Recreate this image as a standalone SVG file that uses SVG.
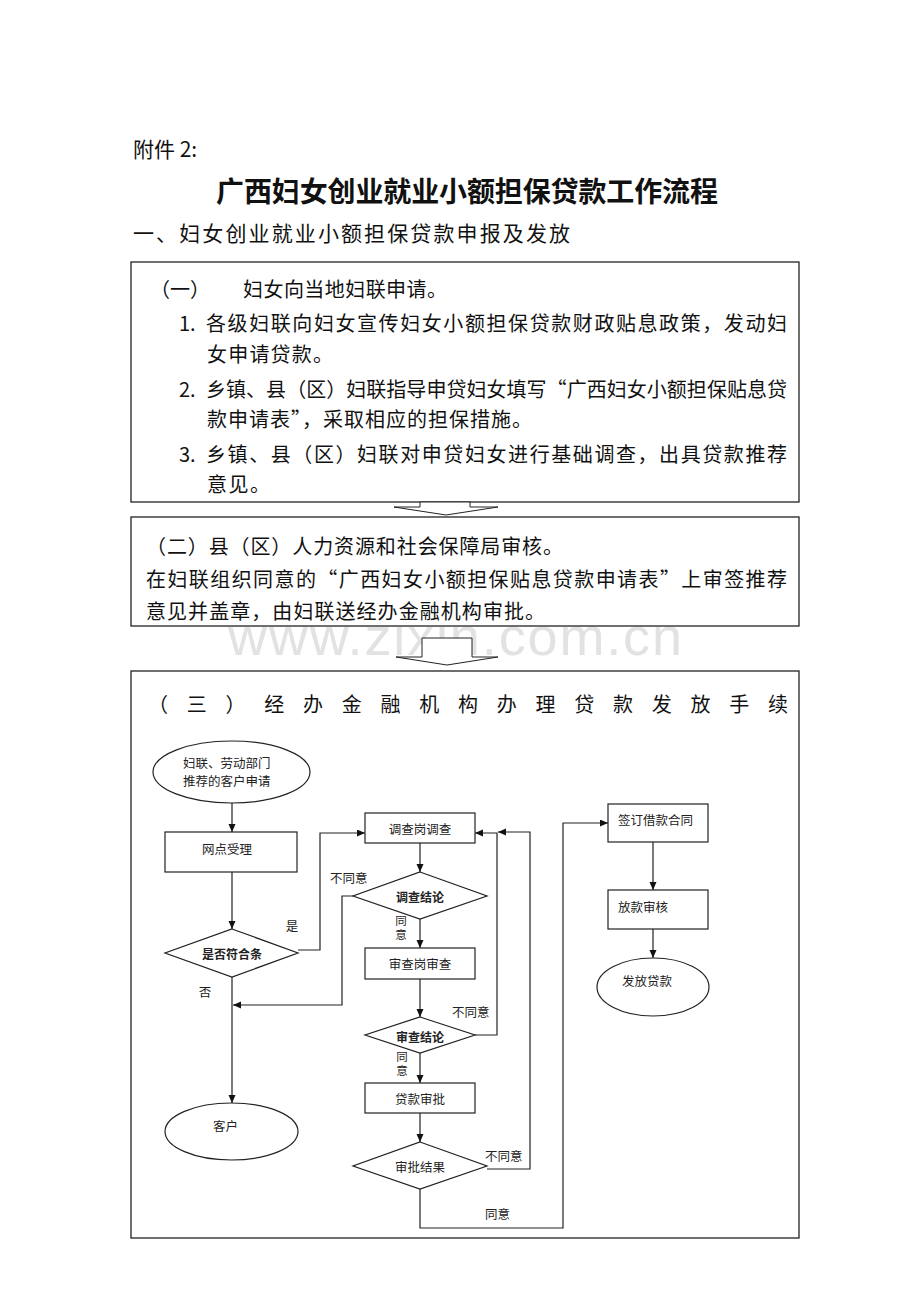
<svg xmlns="http://www.w3.org/2000/svg" width="920" height="1302" viewBox="0 0 920 1302">
<style>
.doc{font-family:"Noto Sans CJK SC","Liberation Serif",serif;fill:#111;dominant-baseline:central}
.s20{font-size:20px}
.s21{font-size:21px}
.t28{font-size:28px;font-weight:bold}
.fc{font-family:"Noto Sans CJK SC","Liberation Sans",sans-serif;fill:#222;dominant-baseline:central}
.f13{font-size:12.5px}
.f12b{font-size:12px;font-weight:bold}
.f11{font-size:11.5px}
.mid{text-anchor:middle}
.page{fill:#fff;stroke:#222;stroke-width:1.3}
.nd{fill:#fff;stroke:#222;stroke-width:1.2}
.cn{fill:none;stroke:#222;stroke-width:1.2}
.blk{fill:#fff;stroke:#222;stroke-width:1}
.wm{font-family:"Liberation Sans",Arial,sans-serif;font-size:54px;fill:#e2e2e2}
</style>
<defs>
<marker id="ah" markerUnits="userSpaceOnUse" markerWidth="9" markerHeight="8" refX="8" refY="3.5" orient="auto">
<path d="M0,0 L8,3.5 L0,7 z" fill="#111"/>
</marker>
</defs>
<rect width="920" height="1302" fill="#fff"/>
<text class="wm" x="228" y="655" textLength="454" lengthAdjust="spacing">www.zixin.com.cn</text>

<text class="doc s21" x="133" y="148">附件 2:</text>
<text class="doc t28" x="216" y="190" textLength="502" lengthAdjust="spacing">广西妇女创业就业小额担保贷款工作流程</text>
<text class="doc s21" x="133" y="232" textLength="437" lengthAdjust="spacing">一、妇女创业就业小额担保贷款申报及发放</text>

<g id="box1">
<rect class="page" x="131" y="262" width="668" height="240"/>
<text class="doc s20" x="150" y="288">（一）</text>
<text class="doc s20" x="243" y="288" textLength="204" lengthAdjust="spacing">妇女向当地妇联申请。</text>
<text class="doc s20" x="179" y="322">1.</text>
<text class="doc s20" x="206" y="322" textLength="581" lengthAdjust="spacing">各级妇联向妇女宣传妇女小额担保贷款财政贴息政策，发动妇</text>
<text class="doc s20" x="207" y="353" textLength="126" lengthAdjust="spacing">女申请贷款。</text>
<text class="doc s20" x="179" y="388">2.</text>
<text class="doc s20" x="206" y="388" textLength="581" lengthAdjust="spacing">乡镇、县（区）妇联指导申贷妇女填写“广西妇女小额担保贴息贷</text>
<text class="doc s20" x="207" y="418" textLength="325" lengthAdjust="spacing">款申请表”，采取相应的担保措施。</text>
<text class="doc s20" x="179" y="453">3.</text>
<text class="doc s20" x="206" y="453" textLength="581" lengthAdjust="spacing">乡镇、县（区）妇联对申贷妇女进行基础调查，出具贷款推荐</text>
<text class="doc s20" x="207" y="483" textLength="63" lengthAdjust="spacing">意见。</text>
</g>

<g id="arrow1">
<polygon class="blk" points="420,502 420,507 394,507 446,515 498,507 470,507 470,502"/>
</g>

<g id="box2">
<rect class="page" x="131" y="517" width="668" height="109"/>
<text class="doc s20" x="146" y="545" textLength="417" lengthAdjust="spacing">（二）县（区）人力资源和社会保障局审核。</text>
<text class="doc s20" x="146" y="578" textLength="641" lengthAdjust="spacing">在妇联组织同意的“广西妇女小额担保贴息贷款申请表”上审签推荐</text>
<text class="doc s20" x="146" y="610" textLength="399" lengthAdjust="spacing">意见并盖章，由妇联送经办金融机构审批。</text>
</g>

<g id="arrow2">
<polygon class="blk" points="422,638 472,638 472,657 498,657 447,665 396,657 422,657"/>
</g>

<g id="box3">
<rect class="page" x="131" y="671" width="668" height="567" fill="none"/>
<text class="doc s20" x="148" y="703" textLength="640" lengthAdjust="spacing">（三）经办金融机构办理贷款发放手续</text>
</g>

<g id="connectors">
<line class="cn" x1="232" y1="803" x2="232" y2="832" marker-end="url(#ah)"/>
<line class="cn" x1="232" y1="872" x2="232" y2="929" marker-end="url(#ah)"/>
<line class="cn" x1="232" y1="977" x2="232" y2="1103" marker-end="url(#ah)"/>
<polyline class="cn" points="298,950 320,950 320,833 365,833" marker-end="url(#ah)"/>
<polyline class="cn" points="353,896 342,896 342,1005 233,1005" marker-end="url(#ah)"/>
<line class="cn" x1="420" y1="843" x2="420" y2="872" marker-end="url(#ah)"/>
<line class="cn" x1="420" y1="919" x2="420" y2="948" marker-end="url(#ah)"/>
<line class="cn" x1="420" y1="979" x2="420" y2="1017" marker-end="url(#ah)"/>
<polyline class="cn" points="475,1035 497,1035 497,833 475,833" marker-end="url(#ah)"/>
<line class="cn" x1="420" y1="1053" x2="420" y2="1083" marker-end="url(#ah)"/>
<line class="cn" x1="420" y1="1113" x2="420" y2="1142" marker-end="url(#ah)"/>
<polyline class="cn" points="487,1169 530,1169 530,832 498,832" marker-end="url(#ah)"/>
<polyline class="cn" points="420,1189 420,1228 563,1228 563,823 608,823" marker-end="url(#ah)"/>
<line class="cn" x1="653" y1="842" x2="653" y2="890" marker-end="url(#ah)"/>
<line class="cn" x1="653" y1="929" x2="653" y2="958" marker-end="url(#ah)"/>
<text class="fc f13 mid" x="292" y="925">是</text>
<text class="fc f13 mid" x="205" y="991">否</text>
<text class="fc f13" x="330" y="877">不同意</text>
<text class="fc f11 mid" x="401" y="920">同</text>
<text class="fc f11 mid" x="401" y="934">意</text>
<text class="fc f13" x="452" y="1011">不同意</text>
<text class="fc f11 mid" x="402" y="1056">同</text>
<text class="fc f11 mid" x="402" y="1070">意</text>
<text class="fc f13" x="485" y="1155">不同意</text>
<text class="fc f13" x="485" y="1213">同意</text>
</g>

<g id="n-apply">
<ellipse class="nd" cx="231.5" cy="772" rx="78.5" ry="31"/>
<text class="fc f13" x="183" y="762">妇联、劳动部门</text>
<text class="fc f13" x="183" y="780">推荐的客户申请</text>
</g>
<g id="n-accept">
<rect class="nd" x="165" y="832" width="132" height="40"/>
<text class="fc f13" x="202" y="848">网点受理</text>
</g>
<g id="n-qualify">
<polygon class="nd" points="232,929 298,953 232,977 165,953"/>
<text class="fc f12b mid" x="232" y="953">是否符合条</text>
</g>
<g id="n-client">
<ellipse class="nd" cx="231.5" cy="1131.5" rx="66.5" ry="28.5"/>
<text class="fc f13" x="213" y="1125">客户</text>
</g>
<g id="n-survey">
<rect class="nd" x="365" y="813" width="110" height="30"/>
<text class="fc f13 mid" x="420" y="828">调查岗调查</text>
</g>
<g id="n-survey-result">
<polygon class="nd" points="420,872 487,896 420,919 353,896"/>
<text class="fc f12b mid" x="420" y="896">调查结论</text>
</g>
<g id="n-review">
<rect class="nd" x="365" y="948" width="110" height="31"/>
<text class="fc f13 mid" x="420" y="963">审查岗审查</text>
</g>
<g id="n-review-result">
<polygon class="nd" points="420,1017 475,1035 420,1053 365,1035"/>
<text class="fc f12b mid" x="420" y="1036">审查结论</text>
</g>
<g id="n-approve">
<rect class="nd" x="365" y="1083" width="110" height="30"/>
<text class="fc f13 mid" x="420" y="1098">贷款审批</text>
</g>
<g id="n-approve-result">
<polygon class="nd" points="420,1142 487,1166 420,1189 353,1166"/>
<text class="fc f13 mid" x="420" y="1166">审批结果</text>
</g>
<g id="n-contract">
<rect class="nd" x="608" y="804" width="100" height="38"/>
<text class="fc f13" x="618" y="819">签订借款合同</text>
</g>
<g id="n-check">
<rect class="nd" x="608" y="890" width="100" height="39"/>
<text class="fc f13" x="618" y="906">放款审核</text>
</g>
<g id="n-release">
<ellipse class="nd" cx="653" cy="987" rx="56" ry="29"/>
<text class="fc f13" x="622" y="980">发放贷款</text>
</g>
</svg>
